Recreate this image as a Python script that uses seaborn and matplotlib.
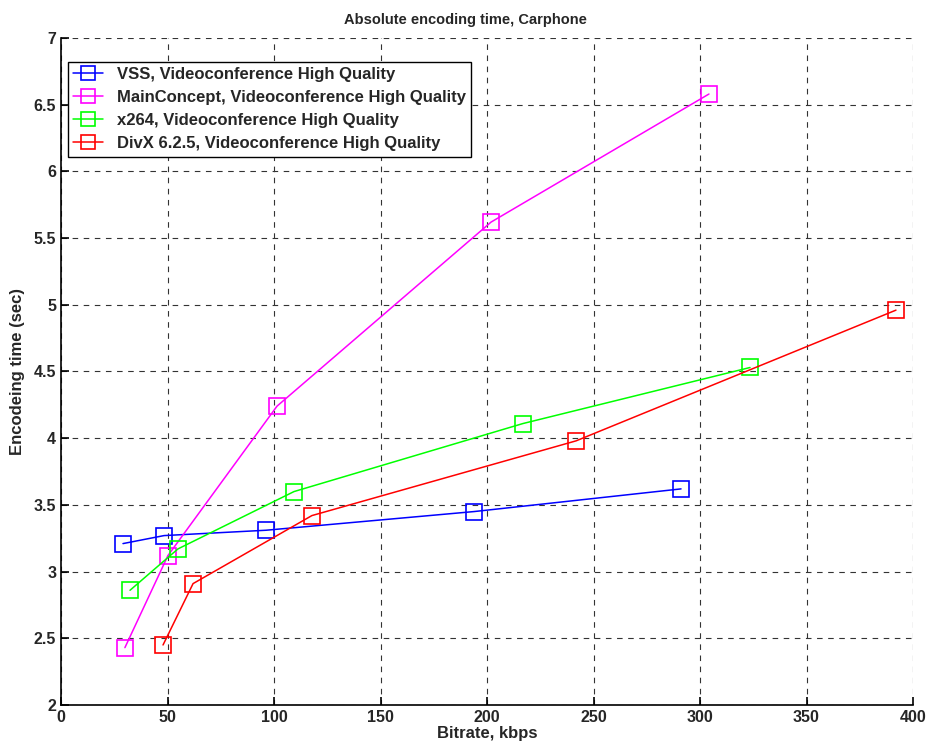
import matplotlib
matplotlib.use("Agg")
import matplotlib.pyplot as plt
import seaborn as sns
import pandas as pd

sns.set_style("white")
plt.rcParams['font.family'] = ['Liberation Sans', 'DejaVu Sans']
plt.rcParams['font.weight'] = 'bold'

series_names = [
    "VSS, Videoconference High Quality",
    "MainConcept, Videoconference High Quality",
    "x264, Videoconference High Quality",
    "DivX 6.2.5, Videoconference High Quality",
]
colors = ["#0000ff", "#ff00ff", "#00ff00", "#ff0000"]

vss_x = [29.1, 48.4, 96.2, 193.9, 291.1]
vss_y = [3.21, 3.27, 3.31, 3.45, 3.62]
mc_x = [30.0, 50.2, 101.4, 201.9, 304.2]
mc_y = [2.43, 3.12, 4.24, 5.62, 6.58]
x264_x = [32.4, 54.9, 109.4, 216.9, 323.5]
x264_y = [2.86, 3.17, 3.60, 4.11, 4.53]
divx_x = [47.9, 62.0, 117.8, 241.8, 392.0]
divx_y = [2.45, 2.91, 3.42, 3.98, 4.96]

xs = [vss_x, mc_x, x264_x, divx_x]
ys = [vss_y, mc_y, x264_y, divx_y]

fig = plt.figure(figsize=(9.29, 7.49), dpi=100)
ax = fig.add_axes([61/929, 44/749, (913-61)/929, (705-38)/749])

for name, c, x, y in zip(series_names, colors, xs, ys):
    df = pd.DataFrame({"x": x, "y": y})
    sns.lineplot(data=df, x="x", y="y", ax=ax, color=c, sort=False,
                 marker="s", markersize=11.5, markerfacecolor="none",
                 markeredgecolor=c, markeredgewidth=1.2, linewidth=1.1,
                 label=name)

ax.set_xlim(0, 400)
ax.set_ylim(2, 7)
ax.set_xticks(range(0, 401, 50))
ax.set_yticks([2, 2.5, 3, 3.5, 4, 4.5, 5, 5.5, 6, 6.5, 7])
ax.set_yticklabels(["2", "2.5", "3", "3.5", "4", "4.5", "5", "5.5", "6", "6.5", "7"])
ax.grid(True, linestyle=(0, (5, 5)), color="#333333", linewidth=0.8)
ax.set_axisbelow(True)
for s in ["top", "right"]:
    ax.spines[s].set_visible(False)
for s in ["left", "bottom"]:
    ax.spines[s].set_color("black")
    ax.spines[s].set_linewidth(1.2)
ax.tick_params(direction="in", length=6, width=1.2, labelsize=11.5, color="black",
               bottom=True, left=True)
for lab in ax.get_xticklabels() + ax.get_yticklabels():
    lab.set_fontweight("bold")

ax.set_title("Absolute encoding time, Carphone", fontsize=10.5, fontweight="bold",
             pad=10, x=(465-61)/852)
ax.set_xlabel("Bitrate, kbps", fontsize=12, fontweight="bold", labelpad=1)
ax.set_ylabel("Encodeing time (sec)", fontsize=12, fontweight="bold", labelpad=6)

leg = ax.legend(loc="upper left", bbox_to_anchor=(7/852, 1-24/667), fontsize=12,
                frameon=True, fancybox=False, framealpha=1, edgecolor="black",
                borderpad=0.32, labelspacing=0.48, handlelength=1.75, handletextpad=0.85,
                borderaxespad=0, markerscale=0.9)
leg.get_frame().set_linewidth(1.0)
for t in leg.get_texts():
    t.set_fontweight("bold")

fig.savefig("out.png", dpi=100)
